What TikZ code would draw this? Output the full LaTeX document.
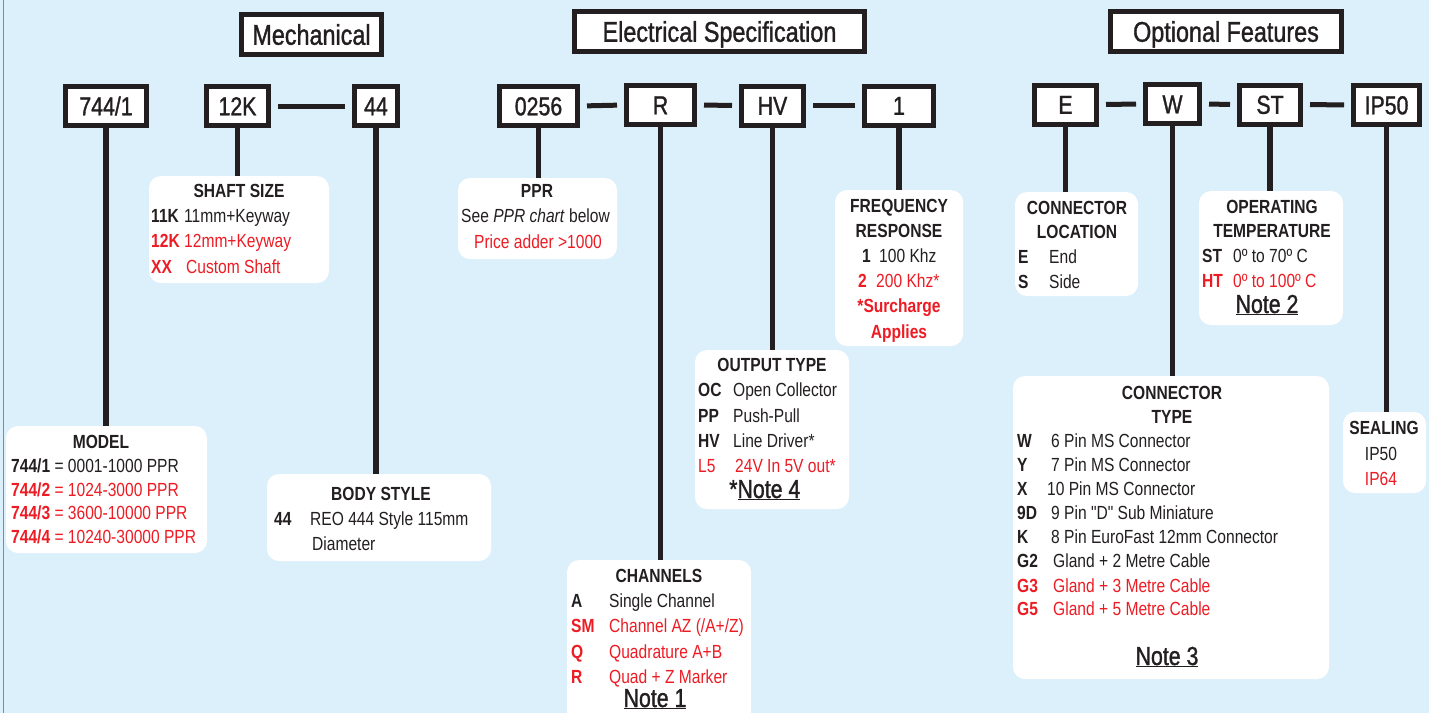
\documentclass[tikz,border=0pt]{standalone}
\usepackage{fontspec}
\setmainfont{Liberation Sans}[FakeStretch=0.82, Ligatures=TeXOff]
\newfontfamily\medfont{Liberation Sans}[FakeStretch=0.82, FakeBold=1.2, Ligatures=TeXOff]
\usetikzlibrary{calc}
\definecolor{bg}{RGB}{219,240,251}
\definecolor{ink}{RGB}{35,31,32}
\definecolor{rd}{RGB}{237,28,36}
\definecolor{edge}{RGB}{70,170,150}
\tikzset{
  codebox/.style={draw=ink, line width=5pt, fill=white, inner sep=0pt, minimum height=39pt,
    text height=18.6pt, text depth=0pt,
    font=\medfont\fontsize{26}{30}\selectfont, text=ink},
  titlebox/.style={draw=ink, line width=5pt, fill=white, inner sep=0pt, minimum height=40pt,
    text height=20.5pt, text depth=0pt,
    font=\medfont\fontsize{28.5}{32}\selectfont, text=ink},
  infobox/.style={fill=white, draw=none, rounded corners=12pt, inner sep=0pt},
  conn/.style={draw=ink, line width=5.5pt},
  dashconn/.style={draw=ink, line width=5pt, shorten <=7pt, shorten >=7pt},
  txt/.style={inner sep=0pt, font=\fontsize{19}{22}\selectfont, text=ink},
  lw/.style={txt, anchor=base west},
  ctr/.style={txt, anchor=base},
  cb/.style={txt, anchor=base west, font=\fontsize{19}{22}\selectfont\bfseries},
  hd/.style={txt, anchor=base, font=\fontsize{19}{22}\selectfont\bfseries},
  redtxt/.style={text=rd},
  note/.style={inner sep=0pt, anchor=base, font=\medfont\fontsize{26}{30}\selectfont, text=ink}
}
\begin{document}
\begin{tikzpicture}[x=1pt,y=-1pt]
\useasboundingbox (0,0) rectangle (1429,713);
\fill[bg] (0,0) rectangle (1429,713);
\clip (0,0) rectangle (1429,713);
\draw[edge, line width=1pt] (3.5,0) -- (3.5,713);

% titles
\node[titlebox, minimum width=140pt] (tmech) at (311.5,34.5) {Mechanical};
\node[titlebox, minimum width=290pt] (telec) at (719.5,31.5) {Electrical Specification};
\node[titlebox, minimum width=231pt] (topt) at (1226,31.5) {Optional Features};

% code boxes
\node[codebox, minimum width=81pt] (b744) at (106,106) {744/1};
\node[codebox, minimum width=62pt] (b12k) at (237.5,106) {12K};
\node[codebox, minimum width=43pt] (b44) at (376,106) {44};
\node[codebox, minimum width=78pt] (b0256) at (538.5,106) {0256};
\node[codebox, minimum width=68pt] (bR) at (660.5,105) {R};
\node[codebox, minimum width=62pt] (bHV) at (772.5,105.5) {HV};
\node[codebox, minimum width=69pt] (b1) at (899,105.5) {1};
\node[codebox, minimum width=62pt] (bE) at (1065.5,104.5) {E};
\node[codebox, minimum width=54pt] (bW) at (1172.5,104) {W};
\node[codebox, minimum width=61pt] (bST) at (1270,104.5) {ST};
\node[codebox, minimum width=66pt] (bIP) at (1386.5,105) {IP50};

% dashes
\draw[dashconn] (b12k.east) -- (b44.west);
\draw[dashconn] (b0256.east) -- (bR.west);
\draw[dashconn] (bR.east) -- (bHV.west);
\draw[dashconn] (bHV.east) -- (b1.west);
\draw[dashconn] (bE.east) -- (bW.west);
\draw[dashconn] (bW.east) -- (bST.west);
\draw[dashconn] (bST.east) -- (bIP.west);

% info boxes
\node[infobox, minimum width=180pt, minimum height=107pt] (shaft) at (239,229.5) {};
\node[infobox, minimum width=159pt, minimum height=81pt] (ppr) at (537.5,218.5) {};
\node[infobox, minimum width=128pt, minimum height=156pt] (freq) at (899,268) {};
\node[infobox, minimum width=123pt, minimum height=104pt] (cloc) at (1076.5,244) {};
\node[infobox, minimum width=144pt, minimum height=134pt] (otemp) at (1271,258) {};
\node[infobox, minimum width=201pt, minimum height=127pt] (model) at (106.5,489.5) {};
\node[infobox, minimum width=224pt, minimum height=87pt] (body) at (379,517.5) {};
\node[infobox, minimum width=154pt, minimum height=159pt] (outp) at (772,429.5) {};
\node[infobox, minimum width=184pt, minimum height=165pt] (chan) at (659,642.5) {};
\node[infobox, minimum width=316pt, minimum height=303pt] (ctype) at (1171,527.5) {};
\node[infobox, minimum width=83pt, minimum height=81pt] (seal) at (1384.5,452.5) {};

% connectors
\draw[conn] (b744.south) -- (b744.south |- model.north);
\draw[conn] (b12k.south) -- (b12k.south |- shaft.north);
\draw[conn] (b44.south) -- (b44.south |- body.north);
\draw[conn] (b0256.south) -- (b0256.south |- ppr.north);
\draw[conn] (bR.south) -- (bR.south |- chan.north);
\draw[conn] (bHV.south) -- (bHV.south |- outp.north);
\draw[conn] (b1.south) -- (b1.south |- freq.north);
\draw[conn] (bE.south) -- (bE.south |- cloc.north);
\draw[conn] (bW.south) -- (bW.south |- ctype.north);
\draw[conn] (bST.south) -- (bST.south |- otemp.north);
\draw[conn] (bIP.south) -- (bIP.south |- seal.north);

% SHAFT SIZE
\node[hd] (shT) at (239,197) {SHAFT SIZE};
\node[cb] (sh1a) at (151,222) {11K}; \node[lw] (sh1b) at (184,222) {11mm+Keyway};
\node[cb,redtxt] (sh2a) at (151,247) {12K}; \node[lw,redtxt] (sh2b) at (184,247) {12mm+Keyway};
\node[cb,redtxt] (sh3a) at (151,273) {XX}; \node[lw,redtxt] (sh3b) at (186,273) {Custom Shaft};

% PPR
\node[hd] (pT) at (537,197) {PPR};
\node[lw] (p1) at (461,222) {See \textit{PPR chart} below};
\node[ctr,redtxt] (p2) at (538,248) {Price adder >1000};

% FREQUENCY
\node[hd] (fT1) at (899,212) {FREQUENCY};
\node[hd] (fT2) at (899,237) {RESPONSE};
\node[cb] (f1a) at (862,262) {1}; \node[lw] (f1b) at (879,262) {100 Khz};
\node[cb,redtxt] (f2a) at (858,287) {2}; \node[lw,redtxt] (f2b) at (876,287) {200 Khz*};
\node[hd,redtxt] (f3) at (899,312) {*Surcharge};
\node[hd,redtxt] (f4) at (899,338) {Applies};

% CONNECTOR LOCATION
\node[hd] (cT1) at (1077,214) {CONNECTOR};
\node[hd] (cT2) at (1077,238) {LOCATION};
\node[cb] (c1a) at (1018,263) {E}; \node[lw] (c1b) at (1049,263) {End};
\node[cb] (c2a) at (1018,288) {S}; \node[lw] (c2b) at (1049,288) {Side};

% OPERATING TEMPERATURE
\node[hd] (oT1) at (1272,213) {OPERATING};
\node[hd] (oT2) at (1272,237) {TEMPERATURE};
\node[cb] (o1a) at (1202,262) {ST}; \node[lw] (o1b) at (1233,262) {0º to 70º C};
\node[cb,redtxt] (o2a) at (1202,287) {HT}; \node[lw,redtxt] (o2b) at (1233,287) {0º to 100º C};
\node[note] (oN) at (1267,313) {\underline{Note 2}};

% MODEL
\node[hd] (mT) at (101,448) {MODEL};
\node[lw] (m1) at (11,472) {\textbf{744/1} = 0001-1000 PPR};
\node[lw,redtxt] (m2) at (11,496) {\textbf{744/2} = 1024-3000 PPR};
\node[lw,redtxt] (m3) at (11,519) {\textbf{744/3} = 3600-10000 PPR};
\node[lw,redtxt] (m4) at (11,543) {\textbf{744/4} = 10240-30000 PPR};

% BODY STYLE
\node[hd] (bT) at (381,500) {BODY STYLE};
\node[cb] (b1a) at (274,525) {44}; \node[lw] (b1b) at (310,525) {REO 444 Style 115mm};
\node[lw] (b2b) at (312,550) {Diameter};

% OUTPUT TYPE
\node[hd] (uT) at (772,371) {OUTPUT TYPE};
\node[cb] (u1a) at (698,396) {OC}; \node[lw] (u1b) at (733,396) {Open Collector};
\node[cb] (u2a) at (698,422) {PP}; \node[lw] (u2b) at (733,422) {Push-Pull};
\node[cb] (u3a) at (698,447) {HV}; \node[lw] (u3b) at (733,447) {Line Driver*};
\node[lw,redtxt] (u4a) at (698,472) {L5}; \node[lw,redtxt] (u4b) at (735,472) {24V In 5V out*};
\node[note, anchor=base west] (uN) at (729,498) {*\underline{Note 4}};

% CHANNELS
\node[hd] (hT) at (659,582) {CHANNELS};
\node[cb] (h1a) at (571,607) {A}; \node[lw] (h1b) at (609,607) {Single Channel};
\node[cb,redtxt] (h2a) at (571,632) {SM}; \node[lw,redtxt] (h2b) at (609,632) {Channel AZ (/A+/Z)};
\node[cb,redtxt] (h3a) at (571,658) {Q}; \node[lw,redtxt] (h3b) at (609,658) {Quadrature A+B};
\node[cb,redtxt] (h4a) at (571,683) {R}; \node[lw,redtxt] (h4b) at (609,683) {Quad + Z Marker};
\node[note] (hN) at (655,707) {\underline{Note 1}};

% CONNECTOR TYPE
\node[hd] (tT1) at (1172,399) {CONNECTOR};
\node[hd] (tT2) at (1172,423) {TYPE};
\node[cb] (t1a) at (1017,447) {W}; \node[lw] (t1b) at (1051,447) {6 Pin MS Connector};
\node[cb] (t2a) at (1017,471) {Y}; \node[lw] (t2b) at (1051,471) {7 Pin MS Connector};
\node[cb] (t3a) at (1017,495) {X}; \node[lw] (t3b) at (1047,495) {10 Pin MS Connector};
\node[cb] (t4a) at (1017,519) {9D}; \node[lw] (t4b) at (1051,519) {9 Pin "D" Sub Miniature};
\node[cb] (t5a) at (1017,543) {K}; \node[lw] (t5b) at (1051,543) {8 Pin EuroFast 12mm Connector};
\node[cb] (t6a) at (1017,567) {G2}; \node[lw] (t6b) at (1053,567) {Gland + 2 Metre Cable};
\node[cb,redtxt] (t7a) at (1017,592) {G3}; \node[lw,redtxt] (t7b) at (1053,592) {Gland + 3 Metre Cable};
\node[cb,redtxt] (t8a) at (1017,615) {G5}; \node[lw,redtxt] (t8b) at (1053,615) {Gland + 5 Metre Cable};
\node[note] (tN) at (1167,665) {\underline{Note 3}};

% SEALING
\node[hd] (sT) at (1384,434) {SEALING};
\node[ctr] (s1) at (1381,460) {IP50};
\node[ctr,redtxt] (s2) at (1381,485) {IP64};
\end{tikzpicture}
\end{document}
